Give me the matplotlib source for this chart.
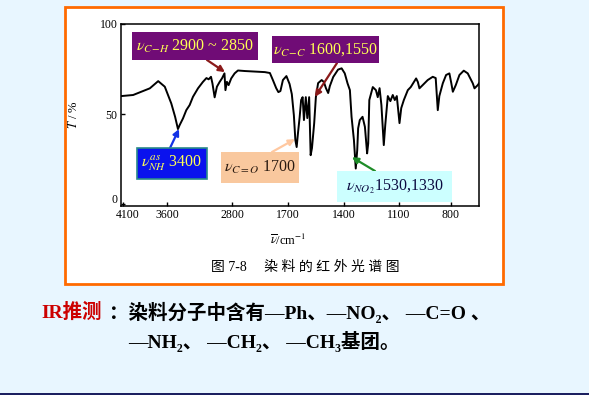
import numpy as np
import matplotlib.pyplot as plt
import matplotlib.transforms as mtransforms
from matplotlib.patches import Rectangle

plt.rcParams['mathtext.fontset'] = 'stix'
plt.rcParams['font.family'] = ['Liberation Serif', 'DejaVu Serif', 'Noto Sans CJK SC']

# IR spectrum (wavenumber cm-1, transmittance %)
wavenumber = [4120, 3985, 3795, 3700, 3625, 3547, 3500, 3465, 3444, 3403,
              3362, 3321, 3280, 3218, 3157, 3114, 3087, 3058, 3040, 3013,
              2985, 2951, 2923, 2892, 2880, 2862, 2841, 2809, 2747, 2682,
              2545, 2348, 2152, 2054, 1995, 1930, 1887, 1847, 1798, 1729,
              1691, 1679, 1668, 1660, 1653, 1646, 1637, 1629, 1621, 1614,
              1604, 1596, 1586, 1578, 1571, 1559, 1550, 1538, 1519, 1507,
              1496, 1484, 1475, 1457, 1431, 1412, 1395, 1380, 1367, 1358,
              1345, 1335, 1327, 1322, 1313, 1298, 1285, 1273, 1267,
              1261, 1242, 1225, 1215, 1205, 1195, 1182, 1174, 1160, 1146,
              1133, 1122, 1111, 1096, 1086, 1071, 1048, 1031, 1000, 990,
              981, 962, 933, 904, 887, 875, 866, 846, 827, 808,
              797, 788, 771, 750, 725, 702, 673, 663, 644, 636]
transmittance = [60.0, 60.6, 64.3, 68.3, 65.2, 55.9, 48.5, 41.7, 43.9, 47.6,
                 52.2, 55.0, 59.6, 64.3, 67.9, 70.0, 69.3, 70.7, 67.0, 59.3,
                 65.2, 67.9, 69.8, 72.6, 63.3, 67.9, 66.1, 69.8, 72.6, 74.2,
                 73.9, 73.6, 73.3, 72.8, 68.9, 64.4, 62.2, 62.8, 68.9, 71.1,
                 66.7, 61.1, 49.4, 35.6, 31.7, 39.4, 48.3, 57.8, 59.4, 46.7,
                 59.4, 47.8, 59.4, 27.2, 31.1, 45.0, 59.4, 67.2, 68.9, 67.8,
                 64.4, 61.7, 65.6, 70.6, 74.7, 75.4, 72.6, 67.1, 63.3, 48.5,
                 35.6, 19.8, 30.0, 42.1, 46.7, 48.5, 42.9, 28.2, 33.7,
                 57.8, 65.0, 63.3, 59.4, 64.4, 55.0, 32.8, 43.9, 60.0, 57.2,
                 60.6, 57.8, 60.0, 45.0, 53.3, 57.8, 63.3, 65.0, 69.8, 67.8,
                 64.3, 66.1, 68.9, 70.7, 70.0, 52.2, 60.0, 67.1, 71.7, 72.6,
                 67.2, 62.4, 66.1, 71.7, 74.1, 72.6, 67.1, 64.3, 66.1, 67.2]

xticks = [4100, 3600, 2800, 1700, 1400, 1100, 800]
yticks = [0, 50, 100]

# peak labels: text, tip (wavenumber, %T)
peak_text = [r'$\nu_{C\!-\!H}$ 2900 ~ 2850', r'$\nu_{C\!-\!C}$ 1600,1550',
             r'$\nu_{NH}^{as}$ 3400', r'$\nu_{C=O}$ 1700', r'$\nu_{NO_2}$1530,1330']
peak_wn = [2886, 1555, 3452, 1662, 1356]
peak_t = [73.3, 59.6, 41.7, 36.1, 26.1]

# piecewise wavenumber axis of the printed chart (nonlinear)
wn_nodes = np.array([4200, 4100, 3600, 2800, 1700, 1400, 1100, 800, 500])
pos_nodes = np.array([114.2, 123, 167, 232, 288, 344, 399, 451, 503])


def forward(w):
    # increasing with wavenumber; axis is then inverted via xlim
    return -np.interp(-np.asarray(w, dtype=float), -wn_nodes, pos_nodes)


def inverse(q):
    return np.interp(-np.asarray(q, dtype=float), pos_nodes, wn_nodes)


W, H = 589, 395


def fx(x):
    return x / W


def fy(y):
    return 1 - y / H


fig = plt.figure(figsize=(5.89, 3.95), dpi=100, facecolor='#E8F6FF')

# orange frame and bottom bar
fig.add_artist(Rectangle((fx(65), fy(284)), fx(503) - fx(65), fy(7) - fy(284),
                         transform=fig.transFigure, facecolor='white',
                         edgecolor='#FF6A00', lw=2.0, zorder=-1))
fig.add_artist(Rectangle((0, 0), 1, 2.5 / H, transform=fig.transFigure,
                         facecolor='#1C2060', edgecolor='none', zorder=-1))

ax = fig.add_axes([fx(121), fy(206), (479 - 121) / W, 182 / H])
ax.set_facecolor('none')
ax.plot(wavenumber, transmittance, color='black', lw=1.4, solid_joinstyle='round')
ax.set_xscale('function', functions=(forward, inverse))
ax.set_xlim(4123, 637)
ax.set_ylim(-1, 100)
ax.set_xticks(xticks)
ax.set_xticklabels([str(t) for t in xticks])
ax.set_yticks(yticks)
ax.tick_params(direction='in', length=3, width=1, labelsize=8.5, pad=2.5)
ax.minorticks_off()
for s in ax.spines.values():
    s.set_linewidth(1.1)

# nudge the corner labels apart, as in the printed figure
ylab0 = ax.get_yticklabels()[0]
ylab0.set_transform(ylab0.get_transform() +
                    mtransforms.ScaledTranslation(0, 4 / 72, fig.dpi_scale_trans))
xlab0 = ax.get_xticklabels()[0]
xlab0.set_transform(xlab0.get_transform() +
                    mtransforms.ScaledTranslation(3 / 72, 0, fig.dpi_scale_trans))

ax.set_ylabel('$T$ / %', fontsize=9)
ax.yaxis.set_label_coords(-0.115, 0.5)
ax.set_xlabel(r'$\overline{\nu}$/cm$^{-1}$', fontsize=9)
ax.xaxis.set_label_coords(0.466, -0.15)

# annotation boxes (x0, y0, x1, y1 in pixels from top-left)
boxes = [(132, 32, 258, 60), (272, 36, 379, 63), (137, 148, 207, 179),
         (221, 152, 299, 183), (337, 171, 452, 202)]
box_face = ['#700C76', '#700C76', '#0A12EE', '#F9C89E', '#CCFFFF']
box_edge = ['none', 'none', '#2A8A8A', 'none', 'none']
text_col = ['#FFFF55', '#FFFF55', '#FFFF55', '#2A1A10', '#0A0A40']
arrow_start = [(207, 60), (337, 63), (170, 148), (272, 152), (375, 171)]
arrow_col = ['#8B1A1A', '#8B1A1A', '#1432E6', '#FFC8A0', '#1E8C28']

for i in range(len(boxes)):
    x0, y0, x1, y1 = boxes[i]
    fig.add_artist(Rectangle((fx(x0), fy(y1)), fx(x1) - fx(x0), fy(y0) - fy(y1),
                             transform=fig.transFigure, facecolor=box_face[i],
                             edgecolor=box_edge[i], lw=1.2, zorder=2))
    fig.text(fx((x0 + x1) / 2), fy((y0 + y1) / 2), peak_text[i], color=text_col[i],
             fontsize=11.5, ha='center', va='center', zorder=3)
    ax.annotate('', xy=(peak_wn[i], peak_t[i]),
                xytext=(arrow_start[i][0], H - arrow_start[i][1]),
                textcoords='figure pixels',
                arrowprops=dict(arrowstyle='-|>', color=arrow_col[i], lw=1.6,
                                mutation_scale=9, shrinkA=0, shrinkB=0))

fig.text(fx(305), fy(267), '图 7-8　 染 料 的 红 外 光 谱 图', fontsize=10,
         ha='center', va='center')

# conclusion text
fig.text(fx(41), fy(312), 'IR推测', color='#CC0000', fontsize=14,
         fontweight='bold', va='center')
fig.text(fx(109), fy(312), '：染料分子中含有—Ph、—NO₂、 —C=O 、', color='black',
         fontsize=14, fontweight='bold', va='center')
fig.text(fx(128), fy(341), '—NH₂、 —CH₂、 —CH₃基团。', color='black',
         fontsize=14, fontweight='bold', va='center')

fig.savefig('out.png', dpi=100, facecolor=fig.get_facecolor())
